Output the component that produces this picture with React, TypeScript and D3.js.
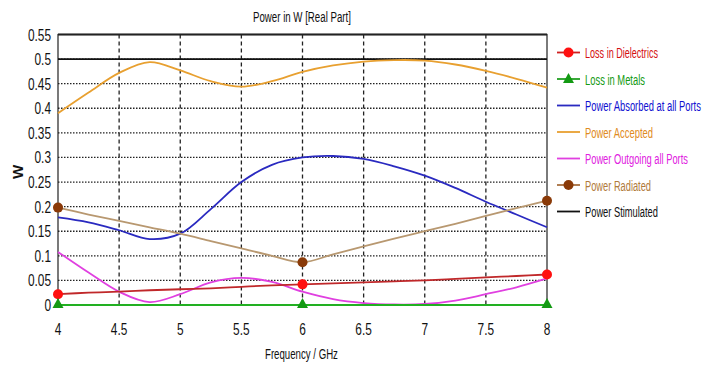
import React, { useLayoutEffect, useRef, useState } from "react";
import * as d3 from "d3";

const freq = [4, 4.25, 4.5, 4.75, 5, 5.25, 5.5, 5.75, 6, 6.25, 6.5, 6.75, 7, 7.25, 7.5, 7.75, 8];
const powerAccepted = [0.39, 0.432, 0.472, 0.494, 0.477, 0.455, 0.444, 0.455, 0.474, 0.487, 0.495, 0.498, 0.497, 0.489, 0.476, 0.46, 0.442];
const powerAbsorbed = [0.178, 0.168, 0.152, 0.134, 0.145, 0.195, 0.25, 0.285, 0.3, 0.303, 0.297, 0.282, 0.263, 0.238, 0.21, 0.184, 0.158];
const powerOutgoing = [0.108, 0.066, 0.027, 0.006, 0.022, 0.046, 0.055, 0.047, 0.027, 0.012, 0.004, 0.001, 0.002, 0.009, 0.022, 0.036, 0.054];
const powerRadiated = [0.198, 0.184, 0.171, 0.158, 0.145, 0.13, 0.115, 0.1, 0.087, 0.103, 0.119, 0.135, 0.15, 0.165, 0.181, 0.197, 0.212];
const lossDielectrics = [0.022, 0.025, 0.027, 0.03, 0.032, 0.034, 0.037, 0.04, 0.042, 0.044, 0.046, 0.048, 0.05, 0.053, 0.056, 0.059, 0.062];
const lossMetals = [0, 0, 0, 0, 0, 0, 0, 0, 0, 0, 0, 0, 0, 0, 0, 0, 0];
const powerStimulated = [0.5, 0.5, 0.5, 0.5, 0.5, 0.5, 0.5, 0.5, 0.5, 0.5, 0.5, 0.5, 0.5, 0.5, 0.5, 0.5, 0.5];
const markerFreqs = [4, 6, 8];
const xTicks = [4, 4.5, 5, 5.5, 6, 6.5, 7, 7.5, 8];
const yTicks = [0, 0.05, 0.1, 0.15, 0.2, 0.25, 0.3, 0.35, 0.4, 0.45, 0.5, 0.55];

const legendNames = [
  "Loss in Dielectrics",
  "Loss in Metals",
  "Power Absorbed at all Ports",
  "Power Accepted",
  "Power Outgoing all Ports",
  "Power Radiated",
  "Power Stimulated",
];
const legendWidths = [73, 60, 116, 68, 103, 66, 73];

const FONT = "'Liberation Sans', Arial, sans-serif";

function FitText(props: { x: number; y: number; width: number; fontSize: number; fill: string; children: string }) {
  const ref = useRef<SVGTextElement>(null);
  const [sx, setSx] = useState(0.7);
  useLayoutEffect(() => {
    if (ref.current) {
      const w = ref.current.getComputedTextLength();
      if (w > 0) setSx(props.width / w);
    }
  }, [props.width, props.children]);
  return (
    <text ref={ref} transform={`translate(${props.x},${props.y}) scale(${sx},1)`} fontSize={props.fontSize} fill={props.fill}>
      {props.children}
    </text>
  );
}

export default function App() {
  const W = 703, H = 365;
  const x = d3.scaleLinear().domain([4, 8]).range([58, 547]);
  const y = d3.scaleLinear().domain([0, 0.55]).range([305, 34.5]);

  const smooth = (vals: number[]) =>
    d3.line<number>().x((_, i) => x(freq[i])).y((v) => y(v)).curve(d3.curveCatmullRom.alpha(0.5))(vals) || "";

  const series = [
    { name: legendNames[0], vals: lossDielectrics, line: "#c0282a", leg: "#d02020", text: "#d41010", marker: "circle", mcolor: "#ff1010" },
    { name: legendNames[1], vals: lossMetals, line: "#22b022", leg: "#22a022", text: "#139a13", marker: "tri", mcolor: "#139a13" },
    { name: legendNames[2], vals: powerAbsorbed, line: "#2a2ac0", leg: "#2a2ac0", text: "#1010d0", marker: null, mcolor: "" },
    { name: legendNames[3], vals: powerAccepted, line: "#e8a030", leg: "#e8a030", text: "#e08a20", marker: null, mcolor: "" },
    { name: legendNames[4], vals: powerOutgoing, line: "#e040e0", leg: "#e040e0", text: "#e020e0", marker: null, mcolor: "" },
    { name: legendNames[5], vals: powerRadiated, line: "#b89870", leg: "#a87040", text: "#b07a3a", marker: "circle", mcolor: "#8a3a08" },
    { name: legendNames[6], vals: powerStimulated, line: "#111111", leg: "#111111", text: "#111111", marker: null, mcolor: "" },
  ];

  const drawOrder = [6, 3, 2, 5, 4, 0, 1];

  const marker = (kind: string, cx: number, cy: number, color: string, key: string) =>
    kind === "circle" ? (
      <circle key={key} cx={cx} cy={cy} r={5} fill={color} />
    ) : (
      <path key={key} d={`M${cx},${cy - 7} L${cx + 5.5},${cy + 3} L${cx - 5.5},${cy + 3} Z`} fill={color} />
    );

  const SX = 0.72;

  return (
    <svg width={W} height={H} style={{ position: "absolute", left: 0, top: 0, background: "#fff" }} fontFamily={FONT}>
      <rect x={0} y={0} width={W} height={H} fill="#fff" />
      <FitText x={253} y={22} width={98} fontSize={15} fill="#111">Power in W [Real Part]</FitText>

      {/* grid */}
      {yTicks.slice(1, -1).map((t) => (
        <line key={"gy" + t} x1={x(4)} x2={x(8)} y1={y(t)} y2={y(t)} stroke="#222" strokeWidth={1.3} strokeDasharray="1.5,1.5" />
      ))}
      {xTicks.slice(1, -1).map((t) => (
        <line key={"gx" + t} x1={x(t)} x2={x(t)} y1={y(0.55)} y2={y(0)} stroke="#222" strokeWidth={1.3} strokeDasharray="4,3" />
      ))}

      {/* frame */}
      <rect x={x(4)} y={y(0.55)} width={x(8) - x(4)} height={y(0) - y(0.55)} fill="none" stroke="#222" strokeWidth={1.2} />
      <line x1={x(4)} x2={x(8)} y1={y(0.55)} y2={y(0.55)} stroke="#222" strokeWidth={2} />

      {/* series lines */}
      {drawOrder.map((si) => {
        const s = series[si];
        return <path key={"l" + si} d={smooth(s.vals)} fill="none" stroke={s.line} strokeWidth={si === 1 ? 2.2 : 1.8} />;
      })}
      {drawOrder.map((si) => {
        const s = series[si];
        if (!s.marker) return null;
        return markerFreqs.map((f) => {
          const i = freq.indexOf(f);
          return marker(s.marker as string, x(f), y(s.vals[i]), s.mcolor, `m${si}-${f}`);
        });
      })}

      {/* axes labels */}
      {yTicks.map((t) => (
        <text key={"ty" + t} transform={`translate(51,${y(t) + 6}) scale(${SX},1)`} textAnchor="end" fontSize={16.5} fill="#111">{d3.format("")(t)}</text>
      ))}
      {xTicks.map((t) => (
        <text key={"tx" + t} transform={`translate(${x(t)},335) scale(${SX},1)`} textAnchor="middle" fontSize={16.5} fill="#111">{d3.format("")(t)}</text>
      ))}
      <FitText x={265} y={359} width={73} fontSize={14} fill="#111">Frequency / GHz</FitText>
      <text transform={`translate(23,172) rotate(-90)`} textAnchor="middle" fontSize={15} fontWeight="bold" fill="#111">W</text>

      {/* legend */}
      {series.map((s, i) => {
        const ly = 52.5 + i * 26.5;
        return (
          <g key={"lg" + i}>
            <line x1={557} x2={580} y1={ly} y2={ly} stroke={s.leg} strokeWidth={1.8} />
            {s.marker ? marker(s.marker, 568.5, ly + (s.marker === "tri" ? 1 : 0), s.mcolor, "lm" + i) : null}
            <FitText x={585} y={ly + 5.5} width={legendWidths[i]} fontSize={15} fill={s.text}>{s.name}</FitText>
          </g>
        );
      })}
    </svg>
  );
}
